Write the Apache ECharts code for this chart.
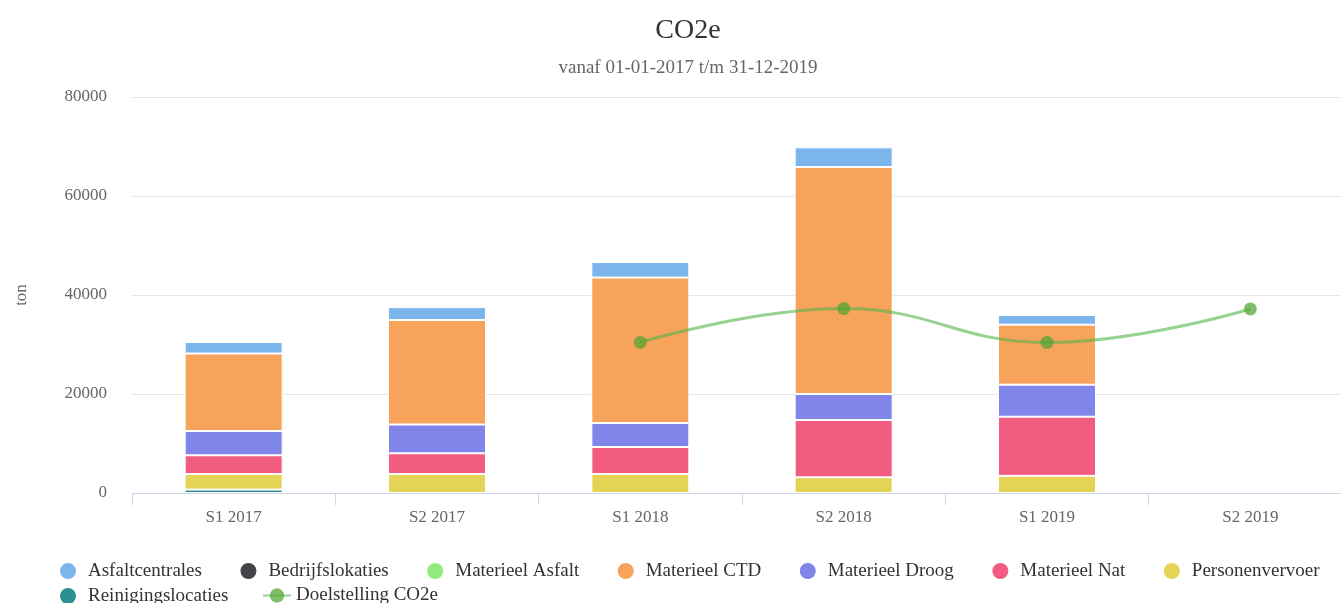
<!DOCTYPE html>
<html>
<head>
<meta charset="utf-8">
<title>CO2e</title>
<script src="https://cdn.jsdelivr.net/npm/echarts@6/dist/echarts.min.js"></script>
<style>
  html, body { margin: 0; padding: 0; background: #fff; overflow: hidden; }
  /* grafiek is iets breder dan het venster, rechterrand valt weg */
  #co2eChart { width: 1376px; height: 603px; }
</style>
</head>
<body>
<div id="co2eChart"></div>
<script>
// periodes
const categories = ['S1 2017', 'S2 2017', 'S1 2018', 'S2 2018', 'S1 2019', 'S2 2019']
const yTicks = [0, 20000, 40000, 60000, 80000]

// ton CO2e per bron (null = geen waarde)
const asfaltcentrales = [2320, 2600, 3130, 3980, 1960, null]
const bedrijfslokaties = [null, null, null, null, null, null]
const materieelAsfalt = [null, null, null, null, null, null]
const materieelCTD = [15660, 21110, 29390, 45850, 12120, null]
const materieelDroog = [4900, 5820, 4850, 5250, 6470, null]
const materieelNat = [3780, 4180, 5450, 11580, 11940, null]
const personenvervoer = [3140, 3840, 3840, 3170, 3470, null]
const reinigingslocaties = [700, null, null, null, null, null]
const doelstelling = [null, null, 30420, 37250, 30420, 37180]

const font = 'Liberation Serif'

// highcharts volgorde: eerste serie boven in de stapel
const barSeries = [
  { name: 'Asfaltcentrales', color: '#7cb5ec', data: asfaltcentrales },
  { name: 'Bedrijfslokaties', color: '#434348', data: bedrijfslokaties },
  { name: 'Materieel Asfalt', color: '#90ed7d', data: materieelAsfalt },
  { name: 'Materieel CTD', color: '#f7a35c', data: materieelCTD },
  { name: 'Materieel Droog', color: '#8085e9', data: materieelDroog },
  { name: 'Materieel Nat', color: '#f15c80', data: materieelNat },
  { name: 'Personenvervoer', color: '#e4d354', data: personenvervoer },
  { name: 'Reinigingslocaties', color: '#2b908f', data: reinigingslocaties }
]

const series = barSeries.slice().reverse().map(s => ({
  name: s.name,
  type: 'bar',
  stack: 'co2e',
  barWidth: 98,
  data: s.data,
  itemStyle: { color: s.color, borderColor: '#fff', borderWidth: 1 }
}))

series.push({
  name: 'Doelstelling CO2e',
  type: 'line',
  smooth: 0.45,
  data: doelstelling,
  symbol: 'circle',
  symbolSize: 13,
  z: 5,
  lineStyle: { color: 'rgba(80,180,70,0.6)', width: 3 },
  itemStyle: { color: 'rgba(80,165,50,0.72)' }
})

const legendText = { fontFamily: font, fontSize: 19, color: '#333' }

const myChart = echarts.init(document.getElementById('co2eChart'))
myChart.setOption({
  backgroundColor: '#fff',
  animation: false,
  title: {
    text: 'CO2e',
    subtext: 'vanaf 01-01-2017 t/m 31-12-2019',
    left: 'center',
    top: 12,
    itemGap: 14,
    textStyle: { fontFamily: font, fontSize: 28, fontWeight: 'normal', color: '#333' },
    subtextStyle: { fontFamily: font, fontSize: 19, color: '#666' }
  },
  legend: [
    {
      data: barSeries.slice(0, 7).map(s => s.name),
      left: 53,
      top: 556,
      icon: 'circle',
      itemWidth: 30,
      itemHeight: 18,
      itemGap: 36.5,
      textStyle: legendText
    },
    {
      data: ['Reinigingslocaties'],
      left: 53,
      top: 581,
      icon: 'circle',
      itemWidth: 30,
      itemHeight: 18,
      textStyle: legendText
    },
    {
      data: ['Doelstelling CO2e'],
      left: 257,
      top: 581,
      itemWidth: 28,
      itemHeight: 18,
      textStyle: legendText
    }
  ],
  grid: {
    left: 132,
    right: 24,
    top: 97,
    bottom: 110
  },
  xAxis: {
    type: 'category',
    data: categories,
    axisLine: { lineStyle: { color: '#ccd6eb', width: 1 } },
    axisTick: { show: true, length: 12, lineStyle: { color: '#ccd6eb' } },
    axisLabel: { fontFamily: font, fontSize: 17, color: '#666', margin: 16 }
  },
  yAxis: {
    type: 'value',
    min: yTicks[0],
    max: yTicks[yTicks.length - 1],
    interval: yTicks[1] - yTicks[0],
    name: 'ton',
    nameLocation: 'middle',
    nameGap: 102,
    nameRotate: 90,
    nameTextStyle: { fontFamily: font, fontSize: 17, color: '#666' },
    axisLine: { show: false },
    axisTick: { show: false },
    axisLabel: {
      fontFamily: font,
      fontSize: 17,
      color: '#666',
      margin: 25,
      formatter: v => String(v)
    },
    splitLine: { lineStyle: { color: '#e6e6e6', width: 1 } }
  },
  series: series
})
</script>
</body>
</html>
